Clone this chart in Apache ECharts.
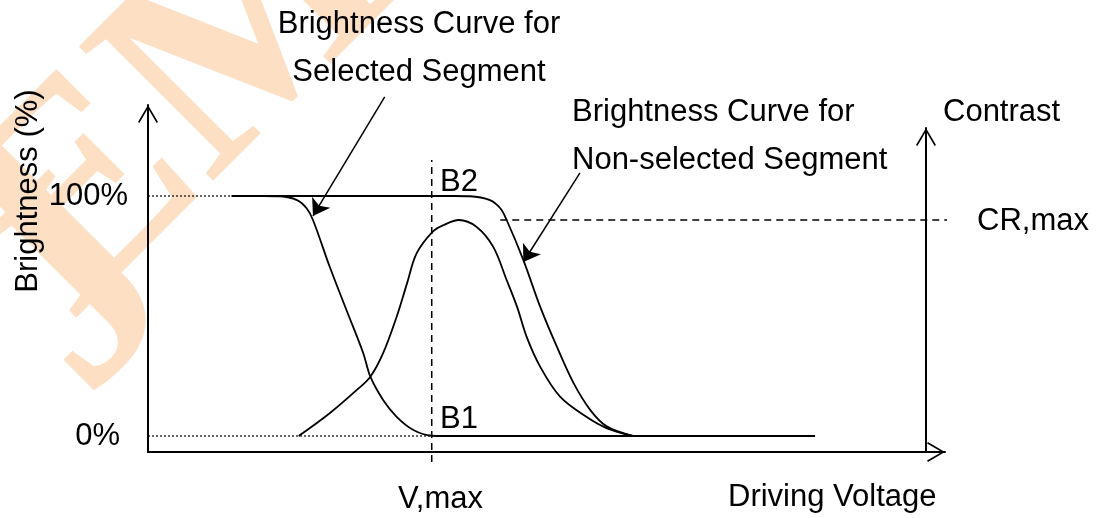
<!DOCTYPE html>
<html>
<head>
<meta charset="utf-8">
<title>Brightness / Contrast vs Driving Voltage</title>
<script src="https://cdn.jsdelivr.net/npm/echarts@6/dist/echarts.min.js"></script>
<style>
  html, body { margin: 0; padding: 0; background: #fff; }
  #chart { width: 1099px; height: 518px; }
</style>
</head>
<body>
<div id="chart"></div>
<script>
// values (x: driving voltage in arbitrary units 0..100, y: brightness %)
var selectedCurve = [[10.5, 100], [14.5, 100], [16.6, 99.9], [18.7, 98.3], [19.9, 94.9], [20.7, 90], [22.8, 70.5],
  [24.9, 52.5], [27.0, 34.6], [27.9, 24.7], [29.5, 15], [31.2, 8], [33.3, 2.5], [35.6, 0.1], [37.0, 0], [83.7, 0]];
var nonSelectedCurve = [[10.5, 100], [38.5, 100], [40.4, 99.9], [42.9, 98.3], [44.2, 94.9], [45.0, 90], [47.1, 73.3],
  [49.2, 53.9], [51.3, 37.2], [53.4, 22], [55.5, 10.8], [57.6, 3.9], [60.9, 0]];
var contrastCurve = [[18.9, 0], [22.8, 9.5], [26.2, 19.2], [27.9, 24.7], [29.5, 34.5], [31.2, 49.7], [32.5, 63.6],
  [33.7, 76.1], [35.7, 85.1], [37.1, 87.9], [39.0, 90], [41.2, 87.2], [43.3, 78.9], [45.0, 65.0], [46.3, 53.9],
  [47.5, 41.4], [49.2, 28.9], [51.7, 16.4], [55.0, 8.0], [57.6, 3.2], [60.9, 0]];

var levels = [0, 100];
var levelLabels = ['0%', '100%'];
var levelLineEnds = [35.6, 10.5];   // where each dotted level line stops
var vMax = 35.6;
var crMax = 90;
var crMaxFrom = 44.2, crMaxTo = 102.5;
var vMaxSpan = [-10.8, 115];
var pointers = [
  [[29.7, 141.3], [20.7, 91.7]],
  [[54.2, 109.6], [47.1, 72.5]]
];

var FONT = '"Liberation Sans", Arial, sans-serif';
var FS = 31;
var chevron = 'path://M10,0 L20,17 L18.6,17.9 L10,3.2 L1.4,17.9 L0,17 Z';

function arrowLine() {
  return {
    show: true, onZero: false,
    symbol: ['none', chevron], symbolSize: [20, 18], symbolOffset: [0, -9],
    lineStyle: { color: '#000', width: 2 }
  };
}

function txt(text, x, y, align, extra) {
  var o = {
    type: 'text', x: x, y: y, z: 10,
    style: { text: text, font: FS + 'px ' + FONT, fill: '#000', align: align || 'left', verticalAlign: 'middle', lineHeight: 48 }
  };
  if (extra) for (var k in extra) o[k] = extra[k];
  return o;
}

function mark(text, x, y) {
  return { type: 'text', x: x, y: y, rotation: Math.PI / 4, z: 0, silent: true,
    style: { text: text, font: 'bold 290px "Liberation Serif", "DejaVu Serif", serif',
      fill: '#fddfc4', align: 'center', verticalAlign: 'middle' } };
}

var chart = echarts.init(document.getElementById('chart'));

var series = [
  { name: 'Selected', type: 'line', data: selectedCurve },
  { name: 'Non-selected', type: 'line', data: nonSelectedCurve },
  { name: 'Contrast', type: 'line', data: contrastCurve }
].map(function (s) {
  s.smooth = 0.35;
  s.symbol = 'none';
  s.lineStyle = { color: '#000', width: 1.8 };
  s.z = 3;
  return s;
});

levels.forEach(function (lv, i) {
  series.push({
    type: 'line', symbol: 'none', clip: false, silent: true,
    data: [[-1, lv], [levelLineEnds[i], lv]],
    lineStyle: { color: '#000', width: 1.2, type: [2, 2] }
  });
});

series.push({
  type: 'line', symbol: 'none', clip: false, silent: true,
  data: [[vMax, vMaxSpan[0]], [vMax, vMaxSpan[1]]],
  lineStyle: { color: '#000', width: 1.5, type: [7, 5] }
});
series.push({
  type: 'line', symbol: 'none', clip: false, silent: true,
  data: [[crMaxFrom, crMax], [crMaxTo, crMax]],
  lineStyle: { color: '#000', width: 1.5, type: [7, 5] }
});
series.push({
  type: 'lines', coordinateSystem: 'cartesian2d', clip: false, silent: true, z: 4,
  symbol: ['none', 'arrow'], symbolSize: 16,
  lineStyle: { color: '#000', width: 1.5, opacity: 1 },
  data: pointers.map(function (p) { return { coords: p }; })
});

var option = {
  backgroundColor: '#fff',
  animation: false,
  grid: [
    { left: 148, right: 154, top: 105, bottom: 66 },
    { left: 926, right: 172, top: 128, bottom: 66 }
  ],
  xAxis: [
    { type: 'value', gridIndex: 0, min: 0, max: 100, axisLine: arrowLine(), z: 5,
      axisTick: { show: false }, axisLabel: { show: false }, splitLine: { show: false } },
    { type: 'value', gridIndex: 1, min: 0, max: 1, show: false }
  ],
  yAxis: [
    { type: 'value', gridIndex: 0, min: -20 / 3, max: 331 / 2.4, axisLine: arrowLine(), z: 5,
      axisTick: { show: false }, splitLine: { show: false },
      axisLabel: {
        show: true, customValues: levels, margin: 20,
        formatter: function (v) {
          var i = levels.indexOf(v);
          return i === 0 ? '{p|' + levelLabels[i] + '}' : levelLabels[i];
        },
        color: '#000', fontSize: FS, fontFamily: FONT,
        rich: { p: { fontSize: FS, fontFamily: FONT, color: '#000', padding: [0, 8, 0, 0] } }
      } },
    { type: 'value', gridIndex: 1, position: 'left', min: 0, max: 1, axisLine: arrowLine(), z: 5,
      axisTick: { show: false }, axisLabel: { show: false }, splitLine: { show: false } }
  ],
  graphic: [
    // faint watermark behind the drawing
    mark('J', 84, 296),
    mark('EM', 185, 103),
    txt('Brightness Curve for\nSelected Segment', 419, 48, 'center'),
    txt('Brightness Curve for\nNon-selected Segment', 572, 136, 'left'),
    txt('Contrast', 943, 112, 'left'),
    txt('CR,max', 977, 221, 'left'),
    txt('B2', 440, 182, 'left'),
    txt('B1', 440, 419, 'left'),
    txt('V,max', 398, 499, 'left'),
    txt('Driving Voltage', 728, 497, 'left'),
    txt('Brightness (%)', 28, 191, 'center', { rotation: Math.PI / 2 })
  ],
  series: series
};

chart.setOption(option);
</script>
</body>
</html>
